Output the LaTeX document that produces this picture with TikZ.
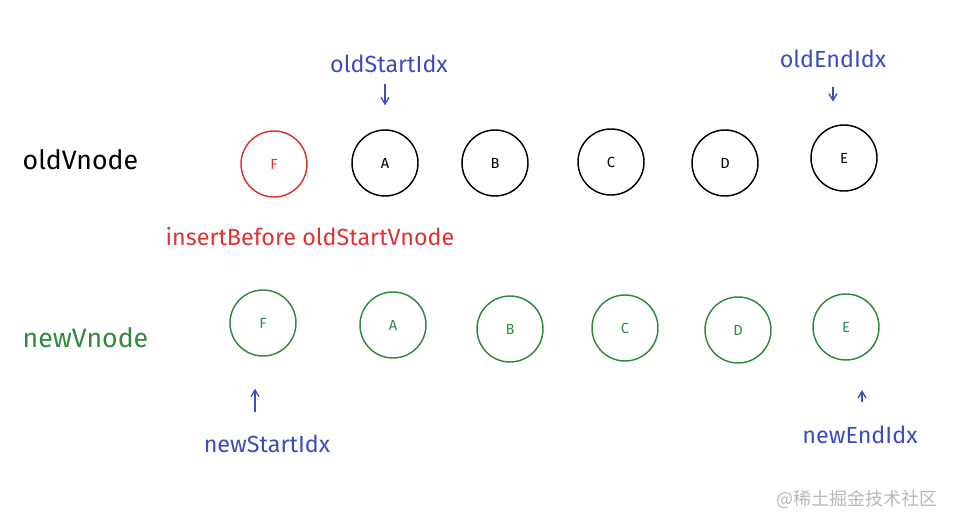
\documentclass[tikz,border=0pt]{standalone}
\usepackage{fontspec}
\setmainfont{Fira Sans}
\newfontfamily\cjkfont{Noto Sans CJK SC}
\usetikzlibrary{arrows.meta}
\definecolor{sketchred}{HTML}{E03131}
\definecolor{sketchgreen}{HTML}{2F8A3E}
\definecolor{sketchblue}{HTML}{3B4CC0}
\tikzset{
  vnode/.style={circle, draw, line width=1.1pt, minimum size=49.5pt, inner sep=0pt,
    font=\fontsize{11}{13}\selectfont},
  rowlabel/.style={anchor=west, font=\fontsize{20}{24}\selectfont},
  idxlabel/.style={text=sketchblue, font=\fontsize{17.5}{20}\selectfont},
  ptr/.style={-{Straight Barb[length=5pt,width=6pt]}, sketchblue, line width=1pt},
}
\begin{document}
\begin{tikzpicture}[x=0.75pt,y=-0.75pt]
    \useasboundingbox (0,0) rectangle (954,527);
    % old vnodes
    \node[rowlabel] (oldrow) at (18,160) {oldVnode};
    \node[vnode, sketchred] (oF) at (274,164) {F};
    \node[vnode] (oA) at (385,163) {A};
    \node[vnode] (oB) at (495,163) {B};
    \node[vnode] (oC) at (611,162) {C};
    \node[vnode] (oD) at (725,163) {D};
    \node[vnode] (oE) at (844,158) {E};
    \node[text=sketchred, font=\fontsize{17.5}{20}\selectfont] (ins) at (310,237) {insertBefore oldStartVnode};
    % new vnodes
    \node[rowlabel, text=sketchgreen] (newrow) at (18,338) {newVnode};
    \begin{scope}[sketchgreen]
        \node[vnode] (nF) at (263,323) {F};
        \node[vnode] (nA) at (393,325) {A};
        \node[vnode] (nB) at (510,329) {B};
        \node[vnode] (nC) at (625,328) {C};
        \node[vnode] (nD) at (738,330) {D};
        \node[vnode] (nE) at (846,327) {E};
    \end{scope}
    % index pointers
    \node[idxlabel] (osi) at (389,64) {oldStartIdx};
    \node[idxlabel] (oei) at (833,59) {oldEndIdx};
    \node[idxlabel] (nsi) at (267,444) {newStartIdx};
    \node[idxlabel] (nei) at (860,435) {newEndIdx};
    \draw[ptr, shorten <=4.5pt, shorten >=18pt] (osi.south -| oA) -- (oA.north);
    \draw[ptr, shorten <=10.5pt, shorten >=17pt] (oei.south) -- (oei.south |- oE.north);
    \draw[ptr, shorten <=13.5pt, shorten >=24pt] ([xshift=-9pt]nsi.north) -- ([xshift=-9pt]nsi.north |- nF.south);
    \draw[ptr, shorten <=14.5pt, shorten >=22pt] ([xshift=1.5pt]nei.north) -- ([xshift=1.5pt]nei.north |- nE.south);
    \node[text=black!28, font=\cjkfont\fontsize{13.5}{16}\selectfont] (mark) at (857,499) {@稀土掘金技术社区};
\end{tikzpicture}
\end{document}
